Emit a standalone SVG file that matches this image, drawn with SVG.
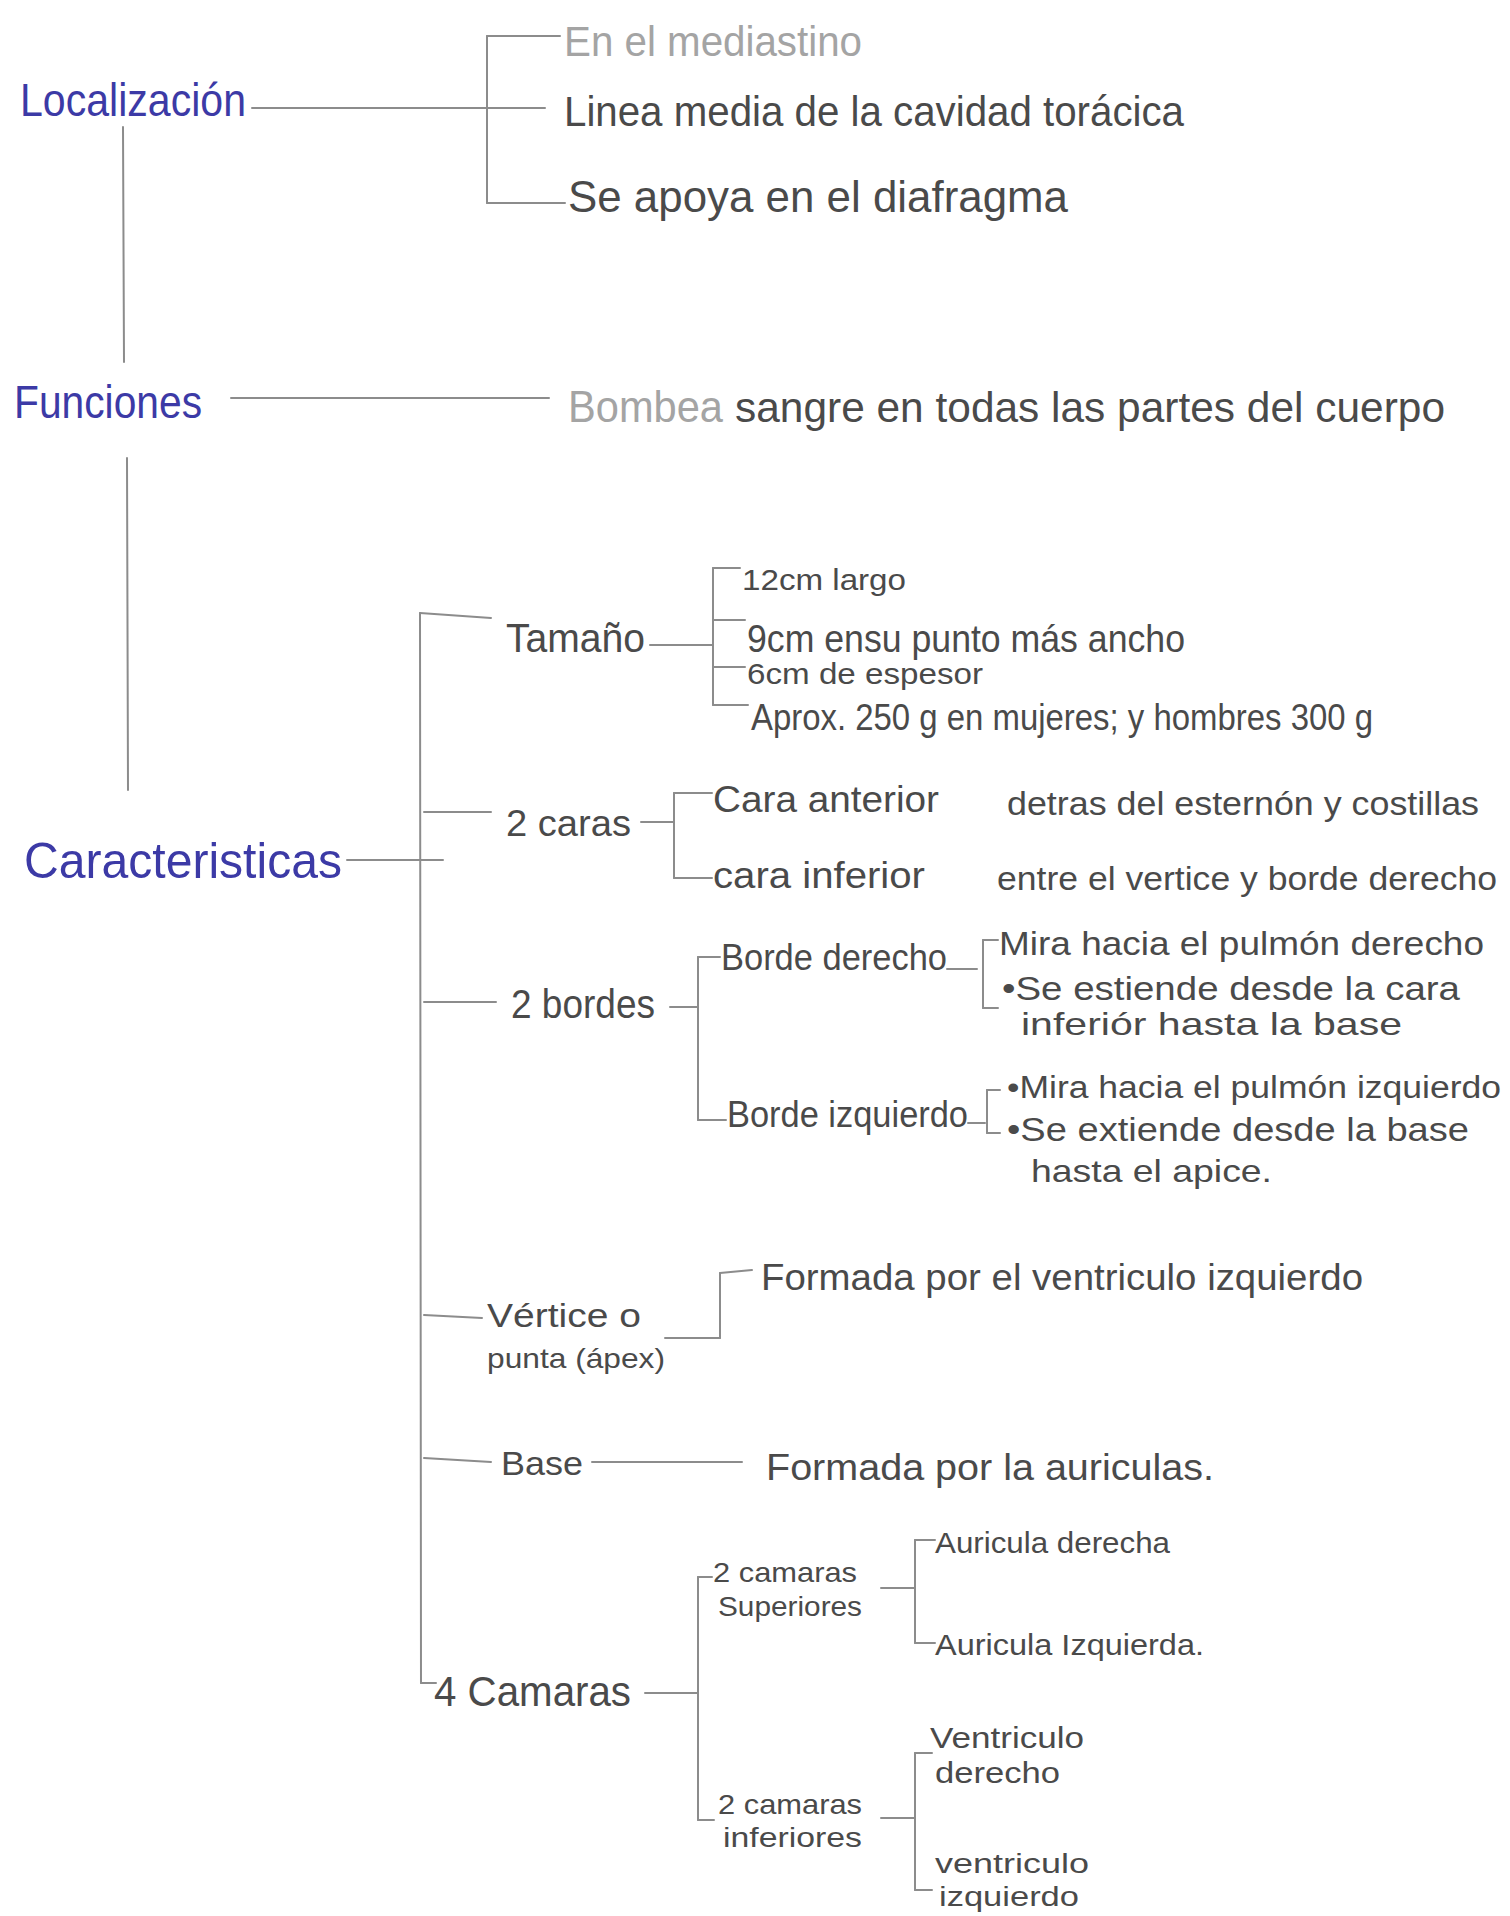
<svg xmlns="http://www.w3.org/2000/svg" width="1510" height="1916" viewBox="0 0 1510 1916">
<style>
text{font-family:"Liberation Sans","DejaVu Sans",sans-serif;fill:#4a4a4a}
.h{fill:#3c3aa6}
.f{fill:#a4a4a4}
#connectors line{stroke:#8c8c8c;stroke-width:2;stroke-linecap:round}
</style>
<rect width="1510" height="1916" fill="#ffffff"/>
<g id="connectors">
<line x1="123" y1="127" x2="124" y2="362"/>
<line x1="127" y1="458" x2="128" y2="790"/>
<line x1="252" y1="108" x2="545" y2="108"/>
<line x1="487" y1="36" x2="487" y2="203"/>
<line x1="487" y1="36" x2="560" y2="36"/>
<line x1="487" y1="203" x2="565" y2="203"/>
<line x1="231" y1="398" x2="549" y2="398"/>
<line x1="347" y1="860" x2="443" y2="860"/>
<line x1="420" y1="613" x2="421" y2="1683"/>
<line x1="421" y1="1683" x2="436" y2="1683"/>
<line x1="420" y1="613" x2="491" y2="618"/>
<line x1="650" y1="645" x2="713" y2="645"/>
<line x1="713" y1="568" x2="713" y2="705"/>
<line x1="713" y1="568" x2="740" y2="568"/>
<line x1="713" y1="620" x2="745" y2="620"/>
<line x1="713" y1="667" x2="745" y2="667"/>
<line x1="713" y1="705" x2="748" y2="705"/>
<line x1="424" y1="812" x2="491" y2="812"/>
<line x1="641" y1="822" x2="674" y2="822"/>
<line x1="674" y1="793" x2="674" y2="878"/>
<line x1="674" y1="793" x2="712" y2="793"/>
<line x1="674" y1="878" x2="712" y2="878"/>
<line x1="424" y1="1002" x2="496" y2="1002"/>
<line x1="670" y1="1007" x2="698" y2="1007"/>
<line x1="698" y1="957" x2="698" y2="1120"/>
<line x1="698" y1="957" x2="720" y2="957"/>
<line x1="698" y1="1120" x2="726" y2="1120"/>
<line x1="947" y1="969" x2="977" y2="969"/>
<line x1="983" y1="940" x2="983" y2="1008"/>
<line x1="983" y1="940" x2="998" y2="940"/>
<line x1="983" y1="1008" x2="998" y2="1008"/>
<line x1="968" y1="1123" x2="985" y2="1123"/>
<line x1="987" y1="1090" x2="987" y2="1133"/>
<line x1="987" y1="1090" x2="1000" y2="1090"/>
<line x1="987" y1="1133" x2="1000" y2="1133"/>
<line x1="424" y1="1315" x2="482" y2="1318"/>
<line x1="665" y1="1338" x2="720" y2="1338"/>
<line x1="720" y1="1273" x2="720" y2="1338"/>
<line x1="720" y1="1273" x2="752" y2="1270"/>
<line x1="424" y1="1458" x2="491" y2="1462"/>
<line x1="592" y1="1462" x2="742" y2="1462"/>
<line x1="645" y1="1693" x2="698" y2="1693"/>
<line x1="698" y1="1577" x2="698" y2="1820"/>
<line x1="698" y1="1577" x2="712" y2="1577"/>
<line x1="698" y1="1820" x2="714" y2="1820"/>
<line x1="881" y1="1588" x2="915" y2="1588"/>
<line x1="915" y1="1540" x2="915" y2="1643"/>
<line x1="915" y1="1540" x2="935" y2="1540"/>
<line x1="915" y1="1643" x2="935" y2="1643"/>
<line x1="881" y1="1818" x2="915" y2="1818"/>
<line x1="915" y1="1753" x2="915" y2="1890"/>
<line x1="915" y1="1753" x2="932" y2="1753"/>
<line x1="915" y1="1890" x2="932" y2="1890"/>
</g>
<g id="localizacion"><text class="h" x="20" y="116" font-size="46" textLength="226" lengthAdjust="spacingAndGlyphs">Localización</text></g>
<g id="loc1"><text class="f" x="564" y="56" font-size="42" textLength="298" lengthAdjust="spacingAndGlyphs">En el mediastino</text></g>
<g id="loc2"><text x="564" y="126" font-size="42" textLength="620" lengthAdjust="spacingAndGlyphs">Linea media de la cavidad torácica</text></g>
<g id="loc3"><text x="568" y="212" font-size="44" textLength="500" lengthAdjust="spacingAndGlyphs">Se apoya en el diafragma</text></g>
<g id="funciones"><text class="h" x="14" y="418" font-size="46" textLength="188" lengthAdjust="spacingAndGlyphs">Funciones</text></g>
<g id="fun1"><text class="f" x="568" y="422" font-size="44" textLength="155" lengthAdjust="spacingAndGlyphs">Bombea</text><text x="735" y="422" font-size="42" textLength="710" lengthAdjust="spacingAndGlyphs">sangre en todas las partes del cuerpo</text></g>
<g id="caracteristicas"><text class="h" x="24" y="878" font-size="50" textLength="318" lengthAdjust="spacingAndGlyphs">Caracteristicas</text></g>
<g id="tamano"><text x="506" y="652" font-size="40" textLength="139" lengthAdjust="spacingAndGlyphs">Tamaño</text></g>
<g id="tam1"><text x="742" y="590" font-size="30" textLength="164" lengthAdjust="spacingAndGlyphs">12cm largo</text></g>
<g id="tam2"><text x="747" y="652" font-size="38" textLength="438" lengthAdjust="spacingAndGlyphs">9cm ensu punto más ancho</text></g>
<g id="tam3"><text x="747" y="684" font-size="30" textLength="236" lengthAdjust="spacingAndGlyphs">6cm de espesor</text></g>
<g id="tam4"><text x="751" y="730" font-size="36" textLength="622" lengthAdjust="spacingAndGlyphs">Aprox. 250 g en mujeres; y hombres 300 g</text></g>
<g id="caras"><text x="506" y="836" font-size="36" textLength="125" lengthAdjust="spacingAndGlyphs">2 caras</text></g>
<g id="cara-ant"><text x="713" y="812" font-size="36" textLength="226" lengthAdjust="spacingAndGlyphs">Cara anterior</text><text x="1007" y="815" font-size="34" textLength="472" lengthAdjust="spacingAndGlyphs">detras del esternón y costillas</text></g>
<g id="cara-inf"><text x="713" y="888" font-size="36" textLength="212" lengthAdjust="spacingAndGlyphs">cara inferior</text><text x="997" y="890" font-size="33" textLength="500" lengthAdjust="spacingAndGlyphs">entre el vertice y borde derecho</text></g>
<g id="bordes"><text x="511" y="1018" font-size="40" textLength="144" lengthAdjust="spacingAndGlyphs">2 bordes</text></g>
<g id="borde-der"><text x="721" y="970" font-size="36" textLength="226" lengthAdjust="spacingAndGlyphs">Borde derecho</text></g>
<g id="bd1"><text x="999" y="955" font-size="33" textLength="485" lengthAdjust="spacingAndGlyphs">Mira hacia el pulmón derecho</text></g>
<g id="bd2"><text x="1002" y="1000" font-size="34" textLength="458" lengthAdjust="spacingAndGlyphs">•Se estiende desde la cara</text><text x="1021" y="1035" font-size="32" textLength="381" lengthAdjust="spacingAndGlyphs">inferiór hasta la base</text></g>
<g id="borde-izq"><text x="727" y="1127" font-size="36" textLength="241" lengthAdjust="spacingAndGlyphs">Borde izquierdo</text></g>
<g id="bi1"><text x="1007" y="1098" font-size="31" textLength="494" lengthAdjust="spacingAndGlyphs">•Mira hacia el pulmón izquierdo</text></g>
<g id="bi2"><text x="1007" y="1141" font-size="34" textLength="462" lengthAdjust="spacingAndGlyphs">•Se extiende desde la base</text><text x="1031" y="1182" font-size="32" textLength="241" lengthAdjust="spacingAndGlyphs">hasta el apice.</text></g>
<g id="vertice"><text x="487" y="1327" font-size="34" textLength="154" lengthAdjust="spacingAndGlyphs">Vértice o</text><text x="487" y="1368" font-size="28" textLength="178" lengthAdjust="spacingAndGlyphs">punta (ápex)</text></g>
<g id="vert1"><text x="761" y="1290" font-size="36" textLength="602" lengthAdjust="spacingAndGlyphs">Formada por el ventriculo izquierdo</text></g>
<g id="base"><text x="501" y="1475" font-size="34" textLength="82" lengthAdjust="spacingAndGlyphs">Base</text></g>
<g id="base1"><text x="766" y="1480" font-size="36" textLength="448" lengthAdjust="spacingAndGlyphs">Formada por la auriculas.</text></g>
<g id="camaras"><text x="434" y="1706" font-size="42" textLength="197" lengthAdjust="spacingAndGlyphs">4 Camaras</text></g>
<g id="superiores"><text x="713" y="1582" font-size="28" textLength="144" lengthAdjust="spacingAndGlyphs">2 camaras</text><text x="718" y="1616" font-size="28" textLength="144" lengthAdjust="spacingAndGlyphs">Superiores</text></g>
<g id="aur-der"><text x="935" y="1553" font-size="30" textLength="235" lengthAdjust="spacingAndGlyphs">Auricula derecha</text></g>
<g id="aur-izq"><text x="935" y="1655" font-size="30" textLength="269" lengthAdjust="spacingAndGlyphs">Auricula Izquierda.</text></g>
<g id="inferiores"><text x="718" y="1814" font-size="28" textLength="144" lengthAdjust="spacingAndGlyphs">2 camaras</text><text x="723" y="1847" font-size="28" textLength="139" lengthAdjust="spacingAndGlyphs">inferiores</text></g>
<g id="ven-der"><text x="930" y="1748" font-size="29" textLength="154" lengthAdjust="spacingAndGlyphs">Ventriculo</text><text x="935" y="1783" font-size="29" textLength="125" lengthAdjust="spacingAndGlyphs">derecho</text></g>
<g id="ven-izq"><text x="935" y="1873" font-size="27" textLength="154" lengthAdjust="spacingAndGlyphs">ventriculo</text><text x="939" y="1906" font-size="27" textLength="140" lengthAdjust="spacingAndGlyphs">izquierdo</text></g>
</svg>
